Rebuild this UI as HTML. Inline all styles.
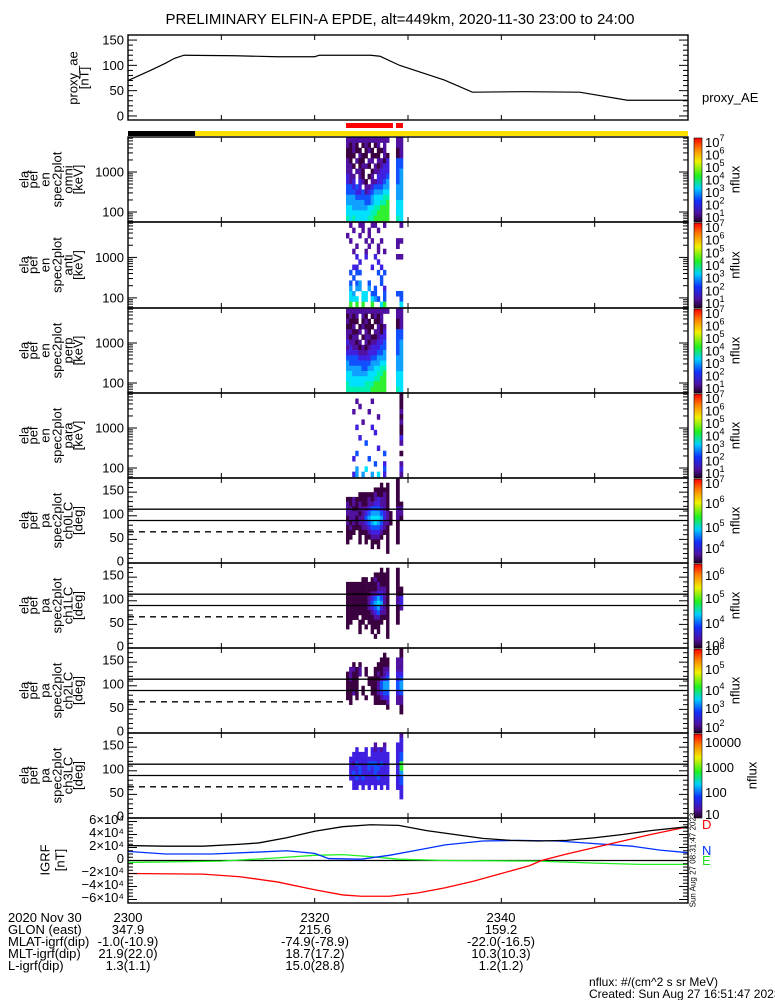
<!DOCTYPE html>
<html><head><meta charset="utf-8">
<style>
html,body{margin:0;padding:0;background:#fff;}
svg{display:block;}
text{font-family:"Liberation Sans",sans-serif;fill:#000;}
</style></head>
<body>
<svg id="chart" xmlns="http://www.w3.org/2000/svg" width="775" height="1000" viewBox="0 0 775 1000">
<rect x="0" y="0" width="775" height="1000" fill="#fff"/>
<text x="400" y="24" font-size="15" text-anchor="middle">PRELIMINARY ELFIN-A EPDE, alt=449km, 2020-11-30 23:00 to 24:00</text>
<text x="702" y="102" font-size="13">proxy_AE</text>
<g font-size="13">
<text x="8" y="922">2020 Nov 30</text>
<text x="8" y="934">GLON (east)</text>
<text x="8" y="946">MLAT-igrf(dip)</text>
<text x="8" y="958">MLT-igrf(dip)</text>
<text x="8" y="970">L-igrf(dip)</text>
<g text-anchor="middle">
<text x="128" y="922">2300</text>
<text x="128" y="934">347.9</text>
<text x="128" y="946">-1.0(-10.9)</text>
<text x="128" y="958">21.9(22.0)</text>
<text x="128" y="970">1.3(1.1)</text>
<text x="315" y="922">2320</text>
<text x="315" y="934">215.6</text>
<text x="315" y="946">-74.9(-78.9)</text>
<text x="315" y="958">18.7(17.2)</text>
<text x="315" y="970">15.0(28.8)</text>
<text x="501" y="922">2340</text>
<text x="501" y="934">159.2</text>
<text x="501" y="946">-22.0(-16.5)</text>
<text x="501" y="958">10.3(10.3)</text>
<text x="501" y="970">1.2(1.2)</text>
</g>
</g>
<text x="589" y="986" font-size="12">nflux: #/(cm^2 s sr MeV)</text>
<text x="589" y="998" font-size="12">Created: Sun Aug 27 16:51:47 2023</text>
<text transform="translate(693,860) rotate(-90)" font-size="8" text-anchor="middle" dominant-baseline="central">Sun Aug 27 08:31:47 2023</text>
<text x="702" y="829" font-size="13" style="fill:#ff0000">D</text>
<text x="702" y="855" font-size="13" style="fill:#0030ff">N</text>
<text x="702" y="865" font-size="13" style="fill:#20e020">E</text>
<defs>
<linearGradient id="cbar" x1="0" y1="1" x2="0" y2="0">
<stop offset="0" stop-color="#200020"/>
<stop offset="0.1" stop-color="#5010a0"/>
<stop offset="0.25" stop-color="#1030ff"/>
<stop offset="0.4" stop-color="#00d0ff"/>
<stop offset="0.55" stop-color="#20f020"/>
<stop offset="0.72" stop-color="#f0f000"/>
<stop offset="0.87" stop-color="#ff8000"/>
<stop offset="1" stop-color="#ff0000"/>
</linearGradient>
</defs>
</svg>
<script>
// ---------- data ----------
const aeTimes = [0, 2.4, 4, 5, 6, 11.5, 16, 20, 20.5, 26, 27, 29.1, 33.9, 36.9, 42.4, 48.4, 53.5, 60];
const aeValues = [70, 90, 104, 114, 120, 119, 117, 117, 120, 120, 118, 100, 71, 47, 48, 47, 31, 31];

const igrfTimes = [0, 4, 8, 12, 14, 17, 20, 23, 26, 29, 32, 35, 38, 41, 44, 47, 50, 53, 56, 60];
const igrfTotal = [23, 22, 22, 25, 27, 35, 45, 52, 55, 54, 46, 40, 34, 31, 30, 31, 35, 40, 46, 52];
const igrfDTimes = [0, 8, 12, 16, 20, 23, 25, 28, 31, 34, 37, 40, 43, 44.3, 47, 50, 53, 56, 60];
const igrfD = [-20, -21, -25, -33, -45, -53, -55, -55, -50, -42, -32, -20, -8, 0, 10, 20, 30, 40, 52];
const igrfNTimes = [0, 4, 9, 14, 17, 20, 21.5, 25, 28, 31, 34, 38, 42, 46, 50, 54, 57, 60];
const igrfN = [14, 10, 10, 13, 15, 11, 3, 2, 8, 16, 24, 30, 31, 30, 26, 22, 16, 12];
const igrfETimes = [0, 10, 16, 20, 23, 26, 29, 34, 44, 50, 55, 60];
const igrfE = [-3, -1, 4, 8, 9, 6, 2, 0, -1, -4, -6, -6];

const energyEdges = [60, 81, 110, 148, 200, 270, 365, 493, 666, 900, 1215, 1640, 2215, 2990, 4040, 5450, 7360];
const mainStart = 23.36, mainStep = 0.33, extraStart = 28.71, extraStep = 0.375;

const omniGrid = [
"222222222222220|22","212101210120200|22","112110121011200|12","111021101110210|12",
"210211022022130|44","221012210212330|44","220221001223330|45","322021012033340|45",
"323032102233450|45","443430223444550|55","444334234555660|55","555444445666770|55",
"555555445667780|66","665555566778880|66","666666667788880|66","767666677888880|76"];
const antiGrid = [
"020022002200200|02","002002020020000|00","200020020000000|00","020000202002000|22",
"000200020020000|20","002000200020200|00","000300300300000|22","000030000030000|00",
"003300003003000|00","040440000040400|00","004000000004000|00","040450040004000|00",
"050550050400300|00","065006604400400|44","066606606540400|04","080808008006800|06"];
const perpGrid = [
"222222222222220|22","121202101212000|22","211101210112000|12","112012111021200|12",
"221120210221300|44","212201221123300|44","322120212233400|45","232212123334400|45",
"333322233344500|45","444433334455500|55","544444445556600|55","555554455667700|55",
"665555566677800|66","666666666778800|66","766666777888800|66","777777778888800|76"];
const paraGrid = [
"000000000000000|01","000200002000000|01","000020000000000|01","002000020000000|02",
"000000000020000|01","000002000000000|02","000300003000000|01","000000000300000|01",
"000030000000000|03","000000400000000|02","000000000030000|00","000400000000400|01",
"003000040000000|00","000000000400300|02","000500600000400|03","003505005060300|02"];
const ch0Grid = [
"000000000000000|10","000000000001010|10","000000000111110|10","000011111211210|10",
"112111121232210|10","212121122332210|11","221122234443210|22","222212345554321|22",
"122122456665321|21","212122345654221|10","121112234443210|10","111011123332110|10",
"110010112221010|10","100010101110010|10","000000001010010|00","000000000000010|00",
"000000000000000|00","000000000000000|00"];
const ch1Grid = [
"000000000000000|00","000000000001010|10","000000000111110|10","000001101211110|10",
"111111111121110|10","111111111122210|11","111111112233210|11","111111123454210|23",
"111111124565210|23","111111123453210|12","111111112342210|10","111101111221110|10",
"110011011111010|10","100010101110010|00","000010001010010|00","000000000100010|00",
"000000000000000|00","000000000000000|00"];
const ch2Grid = [
"000000000000000|01","000000000000100|01","000000000001110|22","001010000011110|22",
"022120100111220|22","121120100121230|33","121100011112340|34","111100011124550|45",
"111101001124550|45","112101001123440|34","110100100112330|22","010000000111120|22",
"000000000000010|01","000000000000000|01","000000000000000|00","000000000000000|00",
"000000000000000|00","000000000000000|00"];
const ch3Grid = [
"000000000000000|02","000000000000000|03","000000000200200|33","000300303232300|33",
"003333303333330|34","033333333333330|34","032433344434330|38","033343343443330|38",
"034343333433330|35","033434333343330|34","003333333333330|34","003303030303030|33",
"000000000000000|03","000000000000000|03","000000000000000|00","000000000000000|00",
"000000000000000|00","000000000000000|00"];

const cbLabelsEnergy = ["7","6","5","4","3","2","1"];
const cbLabelsCh0 = ["7","6","5","4"];
const cbLabelsCh1 = ["6","5","4","3"];
const cbLabelsCh2 = ["6","5","4","3","2"];
const cbLabelsCh3 = ["10000","1000","100","10"];

// ---------- helpers ----------
const NS = 'http://www.w3.org/2000/svg';
const svg = document.getElementById('chart');
function mk(tag, attrs, parent) {
  const e = document.createElementNS(NS, tag);
  for (const k in attrs) e.setAttribute(k, attrs[k]);
  (parent || svg).appendChild(e);
  return e;
}
const X0 = 128, X1 = 688;
const xT = t => X0 + (t / 60) * (X1 - X0);
const levelColor = ['none', '#3a0040', '#5010a0', '#4020e0', '#1050ff', '#10a0ff', '#00e0ff', '#00f0b0', '#30f030'];

const panels = [
  {name:'omni', top:137, bot:222, kind:'en', grid:omniGrid, lab:['ela','pef','en','spec2plot','omni','[keV]'], cb:cbLabelsEnergy},
  {name:'anti', top:222, bot:308, kind:'en', grid:antiGrid, lab:['ela','pef','en','spec2plot','anti','[keV]'], cb:cbLabelsEnergy},
  {name:'perp', top:308, bot:393, kind:'en', grid:perpGrid, lab:['ela','pef','en','spec2plot','perp','[keV]'], cb:cbLabelsEnergy},
  {name:'para', top:393, bot:478, kind:'en', grid:paraGrid, lab:['ela','pef','en','spec2plot','para','[keV]'], cb:cbLabelsEnergy},
  {name:'ch0lc', top:478, bot:563, kind:'pa', grid:ch0Grid, lab:['ela','pef','pa','spec2plot','ch0LC','[deg]'], cb:cbLabelsCh0, cbY:[483,503,527,548]},
  {name:'ch1lc', top:563, bot:648, kind:'pa', grid:ch1Grid, lab:['ela','pef','pa','spec2plot','ch1LC','[deg]'], cb:cbLabelsCh1, cbY:[575,598,623,645]},
  {name:'ch2lc', top:648, bot:733, kind:'pa', grid:ch2Grid, lab:['ela','pef','pa','spec2plot','ch2LC','[deg]'], cb:cbLabelsCh2, cbY:[650,669,690,708,727]},
  {name:'ch3lc', top:733, bot:818, kind:'pa', grid:ch3Grid, lab:['ela','pef','pa','spec2plot','ch3LC','[deg]'], cb:cbLabelsCh3, cbY:[742,767,792,814], plain:true}
];
const labX = [24, 33, 45, 57, 68, 78];
const LOGMIN = 1.75, LOGMAX = 3.875;

function xTicks(top, bot, g) {
  for (let m = 10; m < 60; m += 10) {
    const x = xT(m);
    const a = mk('line', {x1:x, y1:bot, x2:x, y2:bot-5, stroke:'#000', 'stroke-width':1}, g);
    
    
    const b = mk('line', {x1:x, y1:top, x2:x, y2:top+5, stroke:'#000', 'stroke-width':1}, g);
    
    
  }
}
function yTick(y, len, g) {
  const a = mk('line', {x1:X0, y1:y, x2:X0+len, y2:y, stroke:'#000', 'stroke-width':1}, g);
  
  
  const b = mk('line', {x1:X1, y1:y, x2:X1-len, y2:y, stroke:'#000', 'stroke-width':1}, g);
  
  
}
function yLabel(y, txt, g) {
  const t = mk('text', {x:124, y:y, 'font-size':13, 'text-anchor':'end', 'dominant-baseline':'central'}, g);
  t.textContent = txt;
  
  
}
function frame(top, bot, g) {
  const r = mk('rect', {x:X0, y:top, width:X1-X0, height:bot-top, fill:'none', stroke:'#000', 'stroke-width':1.4}, g);
  
  
}
function rotLabels(lines, xs, cy, g) {
  lines.forEach((s, i) => {
    const t = mk('text', {transform:`translate(${xs[i]},${cy}) rotate(-90)`, 'font-size':13, 'text-anchor':'middle', 'dominant-baseline':'central'}, g);
    t.textContent = s;
    
    
  });
}

// ---------- proxy AE ----------
{
  const g = mk('g', {});
  
  
  const top = 35, bot = 120;
  const yA = v => bot - (v + 8) / 168 * (bot - top);
  const pts = aeTimes.map((t, i) => xT(t) + ',' + yA(aeValues[i])).join(' ');
  const pl = mk('polyline', {points:pts, fill:'none', stroke:'#000', 'stroke-width':1.2}, g);
  
  
  for (let v = 0; v <= 160; v += 10) yTick(yA(v), v % 50 === 0 ? 9 : 5, g);
  [0, 50, 100, 150].forEach(v => yLabel(yA(v), String(v), g));
  xTicks(top, bot, g);
  frame(top, bot, g);
  rotLabels(['proxy_ae', '[nT]'], [73, 84], 78, g);
}

// ---------- state bars ----------
{
  const redSegs = [[23.36, 28.39], [28.71, 29.46]];
  redSegs.forEach(s => {
    const r = mk('rect', {x:xT(s[0]), y:123, width:xT(s[1])-xT(s[0]), height:5, fill:'#ff0000'});
    
    
  });
  const b = mk('rect', {x:X0, y:131, width:xT(7.2)-X0, height:5, fill:'#000'});
  
  
  const y = mk('rect', {x:xT(7.2), y:131, width:X1-xT(7.2), height:5, fill:'#ffe000'});
  
  
}

// ---------- spectrogram panels ----------
panels.forEach(p => {
  const g = mk('g', {});
  
  
  const h = p.bot - p.top;
  const yE = e => p.bot - (Math.log10(e) - LOGMIN) / (LOGMAX - LOGMIN) * h;
  const yP = a => p.bot - a / 180 * h;
  const nRows = p.grid.length;
  p.grid.forEach((row, ri) => {
    let y0, y1;
    if (p.kind === 'en') { const k = nRows - 1 - ri; y0 = yE(energyEdges[k+1]); y1 = yE(energyEdges[k]); }
    else { const a = 180 - ri * 10; y0 = yP(a); y1 = yP(a - 10); }
    const parts = row.split('|');
    parts.forEach((seg, si) => {
      const st = si === 0 ? mainStart : extraStart, dt = si === 0 ? mainStep : extraStep;
      for (let c = 0; c < seg.length; c++) {
        const lv = +seg[c];
        if (!lv) continue;
        const xa = xT(st + c * dt), xb = xT(st + (c + 1) * dt);
        const r = mk('rect', {x:xa, y:y0, width:xb-xa+0.3, height:y1-y0+0.3, fill:levelColor[lv]}, g);
        
        
      }
    });
  });
  if (p.kind === 'en') {
    [60,70,80,90,100,200,300,400,500,600,700,800,900,1000,2000,3000,4000,5000,6000,7000].forEach(e => {
      const maj = e === 100 || e === 1000;
      yTick(yE(e), maj ? 9 : 5, g);
    });
    yLabel(yE(1000), '1000', g);
    yLabel(yE(100), '100', g);
  } else {
    for (let a = 0; a <= 180; a += 10) yTick(yP(a), a % 50 === 0 ? 9 : 5, g);
    [0, 50, 100, 150].forEach(a => yLabel(yP(a) - 2, String(a), g));
    [90, 114].forEach(a => {
      const l = mk('line', {x1:X0, y1:yP(a), x2:X1, y2:yP(a), stroke:'#000', 'stroke-width':1.3}, g);
      
      
    });
    const d = mk('line', {x1:X0, y1:yP(66), x2:345, y2:yP(66), stroke:'#000', 'stroke-width':1.3, 'stroke-dasharray':'6,5'}, g);
    
    
  }
  xTicks(p.top, p.bot, g);
  frame(p.top, p.bot, g);
  rotLabels(p.lab, labX, (p.top + p.bot) / 2, g);
  const cb = mk('rect', {x:694, y:p.top+1, width:8, height:h-1, fill:'url(#cbar)', stroke:'#000', 'stroke-width':0.6}, g);
  
  
  p.cb.forEach((lab, i) => {
    const y = p.cbY ? p.cbY[i] : p.top + 5 + i * (h - 10) / (p.cb.length - 1);
    const t = mk('text', {x:705, y:y + 5, 'font-size':13}, g);
    if (p.plain) t.textContent = lab;
    else {
      t.textContent = '10';
      const s = mk('tspan', {dy:-6, 'font-size':9}, t);
      s.textContent = lab;
    }
    
    
  });
  const nf = mk('text', {transform:`translate(${p.plain ? 752 : 735},${(p.top + p.bot) / 2}) rotate(-90)`, 'font-size':13, 'text-anchor':'middle', 'dominant-baseline':'central'}, g);
  nf.textContent = 'nflux';
  
  
});

// ---------- IGRF ----------
{
  const g = mk('g', {});
  
  
  const top = 818, bot = 903;
  const yI = v => 860.5 - v * 0.65;
  const z = mk('line', {x1:X0, y1:yI(0), x2:X1, y2:yI(0), stroke:'#000', 'stroke-width':1.3}, g);
  
  
  const series = [[igrfETimes, igrfE, '#20f020', 'igrf-e-line'], [igrfNTimes, igrfN, '#0030ff', 'igrf-n-line'], [igrfDTimes, igrfD, '#ff0000', 'igrf-d-line'], [igrfTimes, igrfTotal, '#000', 'igrf-total-line']];
  series.forEach(s => {
    const pts = s[0].map((t, i) => xT(t) + ',' + yI(s[1][i])).join(' ');
    const pl = mk('polyline', {points:pts, fill:'none', stroke:s[2], 'stroke-width':1.3}, g);
    
    
  });
  for (let v = -60; v <= 60; v += 5) yTick(yI(v), v % 20 === 0 ? 9 : 5, g);
  [60, 40, 20, 0, -20, -40, -60].forEach(v => {
    const lab = v === 0 ? '0' : (v < 0 ? '\u2212' : '') + Math.abs(v / 10) + '\u00d710\u2074';
    yLabel(yI(v) - 2, lab, g);
  });
  xTicks(top, bot, g);
  frame(top, bot, g);
  rotLabels(['IGRF', '[nT]'], [45, 60], 860, g);
}
</script>
</body></html>
